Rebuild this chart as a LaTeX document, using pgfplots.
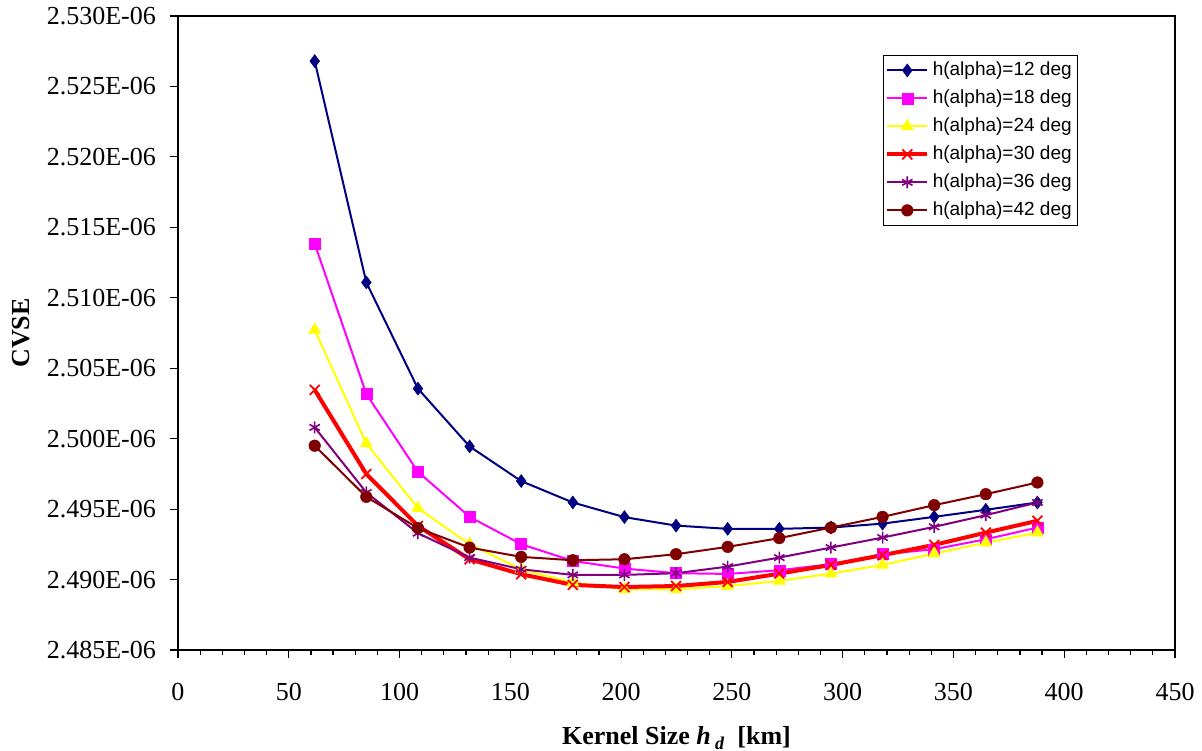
\documentclass[border=0pt]{standalone}
\usepackage{fontspec}
\setmainfont{Liberation Serif}
\newfontfamily\arialfont{Liberation Sans}
\usepackage{pgfplots}
\pgfplotsset{compat=1.18}
\definecolor{cNavy}{RGB}{0,0,128}
\definecolor{cMag}{RGB}{255,0,255}
\definecolor{cYel}{RGB}{255,255,0}
\definecolor{cRed}{RGB}{255,0,0}
\definecolor{cPur}{RGB}{128,0,128}
\definecolor{cDRed}{RGB}{128,0,0}
\begin{document}
\begin{tikzpicture}[x=1pt,y=1pt]
\path[use as bounding box] (-178,-101) rectangle (1024,650);
\begin{axis}[
  scale only axis,
  width=997pt, height=634pt,
  xmin=0, xmax=450, ymin=2.485, ymax=2.530,
  xtick={0,50,...,450},
  minor x tick num=4,
  ytick={2.485,2.490,2.495,2.500,2.505,2.510,2.515,2.520,2.525,2.530},
  yticklabels={2.485E-06,2.490E-06,2.495E-06,2.500E-06,2.505E-06,2.510E-06,2.515E-06,2.520E-06,2.525E-06,2.530E-06},
  tick align=outside,
  xtick pos=bottom, ytick pos=left,
  major tick length=8pt, minor tick length=5pt,
  every tick/.style={black, line width=1.2pt},
  axis line style={line width=1.6pt},
  /pgf/number format/assume math mode=true,
  ticklabel style={font=\fontsize{26}{26}\selectfont},
  yticklabel style={inner sep=0pt, xshift=-14pt},
  xticklabel style={inner sep=0pt, yshift=-25pt},
  xlabel={\textbf{Kernel Size \textit{h}\,\raisebox{-0.35ex}{\fontsize{18}{18}\selectfont\textbf{\textit{d}}}\ \ [km]}},
  ylabel={\textbf{CVSE}},
  every axis x label/.style={at={(rel axis cs:0.5,0)}, anchor=base, yshift=-95pt, font=\fontsize{26}{26}\selectfont},
  every axis y label/.style={at={(rel axis cs:0,0.5)}, xshift=-157pt, rotate=90, anchor=center, font=\fontsize{26}{26}\selectfont},
  legend style={at={(0.707,0.9385)}, anchor=north west, draw=black, line width=0.8pt,
     font=\arialfont\fontsize{19}{19}\selectfont,
     nodes={inner sep=3.5pt, text height=16pt, text depth=5pt},
     row sep=0pt, inner xsep=2pt, inner ysep=1pt},
  legend cell align=left,
  legend image code/.code={\draw[mark repeat=2,mark phase=2,#1] plot coordinates {(0pt,0pt) (20pt,0pt) (40pt,0pt)};},
]
\addplot[color=cNavy, line width=2pt, mark=diamond*, mark size=6.5pt, mark options={solid, fill=cNavy, line width=0.5pt}] coordinates {
(61.7,2.52680) (85.0,2.51109) (108.3,2.50355) (131.6,2.49945) (154.9,2.49699) (178.2,2.49547) (201.5,2.49443) (224.8,2.49383) (248.1,2.49360) (271.4,2.49360) (294.7,2.49369) (318.0,2.49397) (341.3,2.49445) (364.6,2.49495) (387.9,2.49547)};
\addlegendentry{h(alpha)=12 deg}
\addplot[color=cMag, line width=2pt, mark=square*, mark size=5.5pt, mark options={solid, fill=cMag, line width=0.5pt}] coordinates {
(61.7,2.51384) (85.0,2.50317) (108.3,2.49765) (131.6,2.49445) (154.9,2.49251) (178.2,2.49132) (201.5,2.49078) (224.8,2.49045) (248.1,2.49040) (271.4,2.49066) (294.7,2.49109) (318.0,2.49180) (341.3,2.49215) (364.6,2.49286) (387.9,2.49369)};
\addlegendentry{h(alpha)=18 deg}
\addplot[color=cYel, line width=2pt, mark=triangle*, mark size=7pt, mark options={solid, fill=cYel, line width=0.5pt}] coordinates {
(61.7,2.50772) (85.0,2.49966) (108.3,2.49507) (131.6,2.49251) (154.9,2.49073) (178.2,2.48978) (201.5,2.48931) (224.8,2.48931) (248.1,2.48954) (271.4,2.48990) (294.7,2.49042) (318.0,2.49104) (341.3,2.49184) (364.6,2.49262) (387.9,2.49333)};
\addlegendentry{h(alpha)=24 deg}
\addplot[color=cRed, line width=4pt, mark=x, mark size=7pt, mark options={solid, line width=1.8pt}] coordinates {
(61.7,2.50346) (85.0,2.49749) (108.3,2.49381) (131.6,2.49144) (154.9,2.49038) (178.2,2.48962) (201.5,2.48947) (224.8,2.48954) (248.1,2.48983) (271.4,2.49042) (294.7,2.49104) (318.0,2.49173) (341.3,2.49246) (364.6,2.49333) (387.9,2.49417)};
\addlegendentry{h(alpha)=30 deg}
\addplot[color=cPur, line width=2pt, mark=asterisk, mark size=6pt, mark options={solid, line width=1.6pt}] coordinates {
(61.7,2.50080) (85.0,2.49618) (108.3,2.49329) (131.6,2.49156) (154.9,2.49073) (178.2,2.49033) (201.5,2.49033) (224.8,2.49045) (248.1,2.49092) (271.4,2.49156) (294.7,2.49227) (318.0,2.49298) (341.3,2.49374) (364.6,2.49457) (387.9,2.49547)};
\addlegendentry{h(alpha)=36 deg}
\addplot[color=cDRed, line width=2pt, mark=*, mark size=5.8pt, mark options={solid, fill=cDRed, line width=0.5pt}] coordinates {
(61.7,2.49950) (85.0,2.49587) (108.3,2.49365) (131.6,2.49227) (154.9,2.49161) (178.2,2.49137) (201.5,2.49144) (224.8,2.49180) (248.1,2.49232) (271.4,2.49294) (294.7,2.49369) (318.0,2.49445) (341.3,2.49528) (364.6,2.49606) (387.9,2.49689)};
\addlegendentry{h(alpha)=42 deg}
\end{axis}
\end{tikzpicture}
\end{document}
